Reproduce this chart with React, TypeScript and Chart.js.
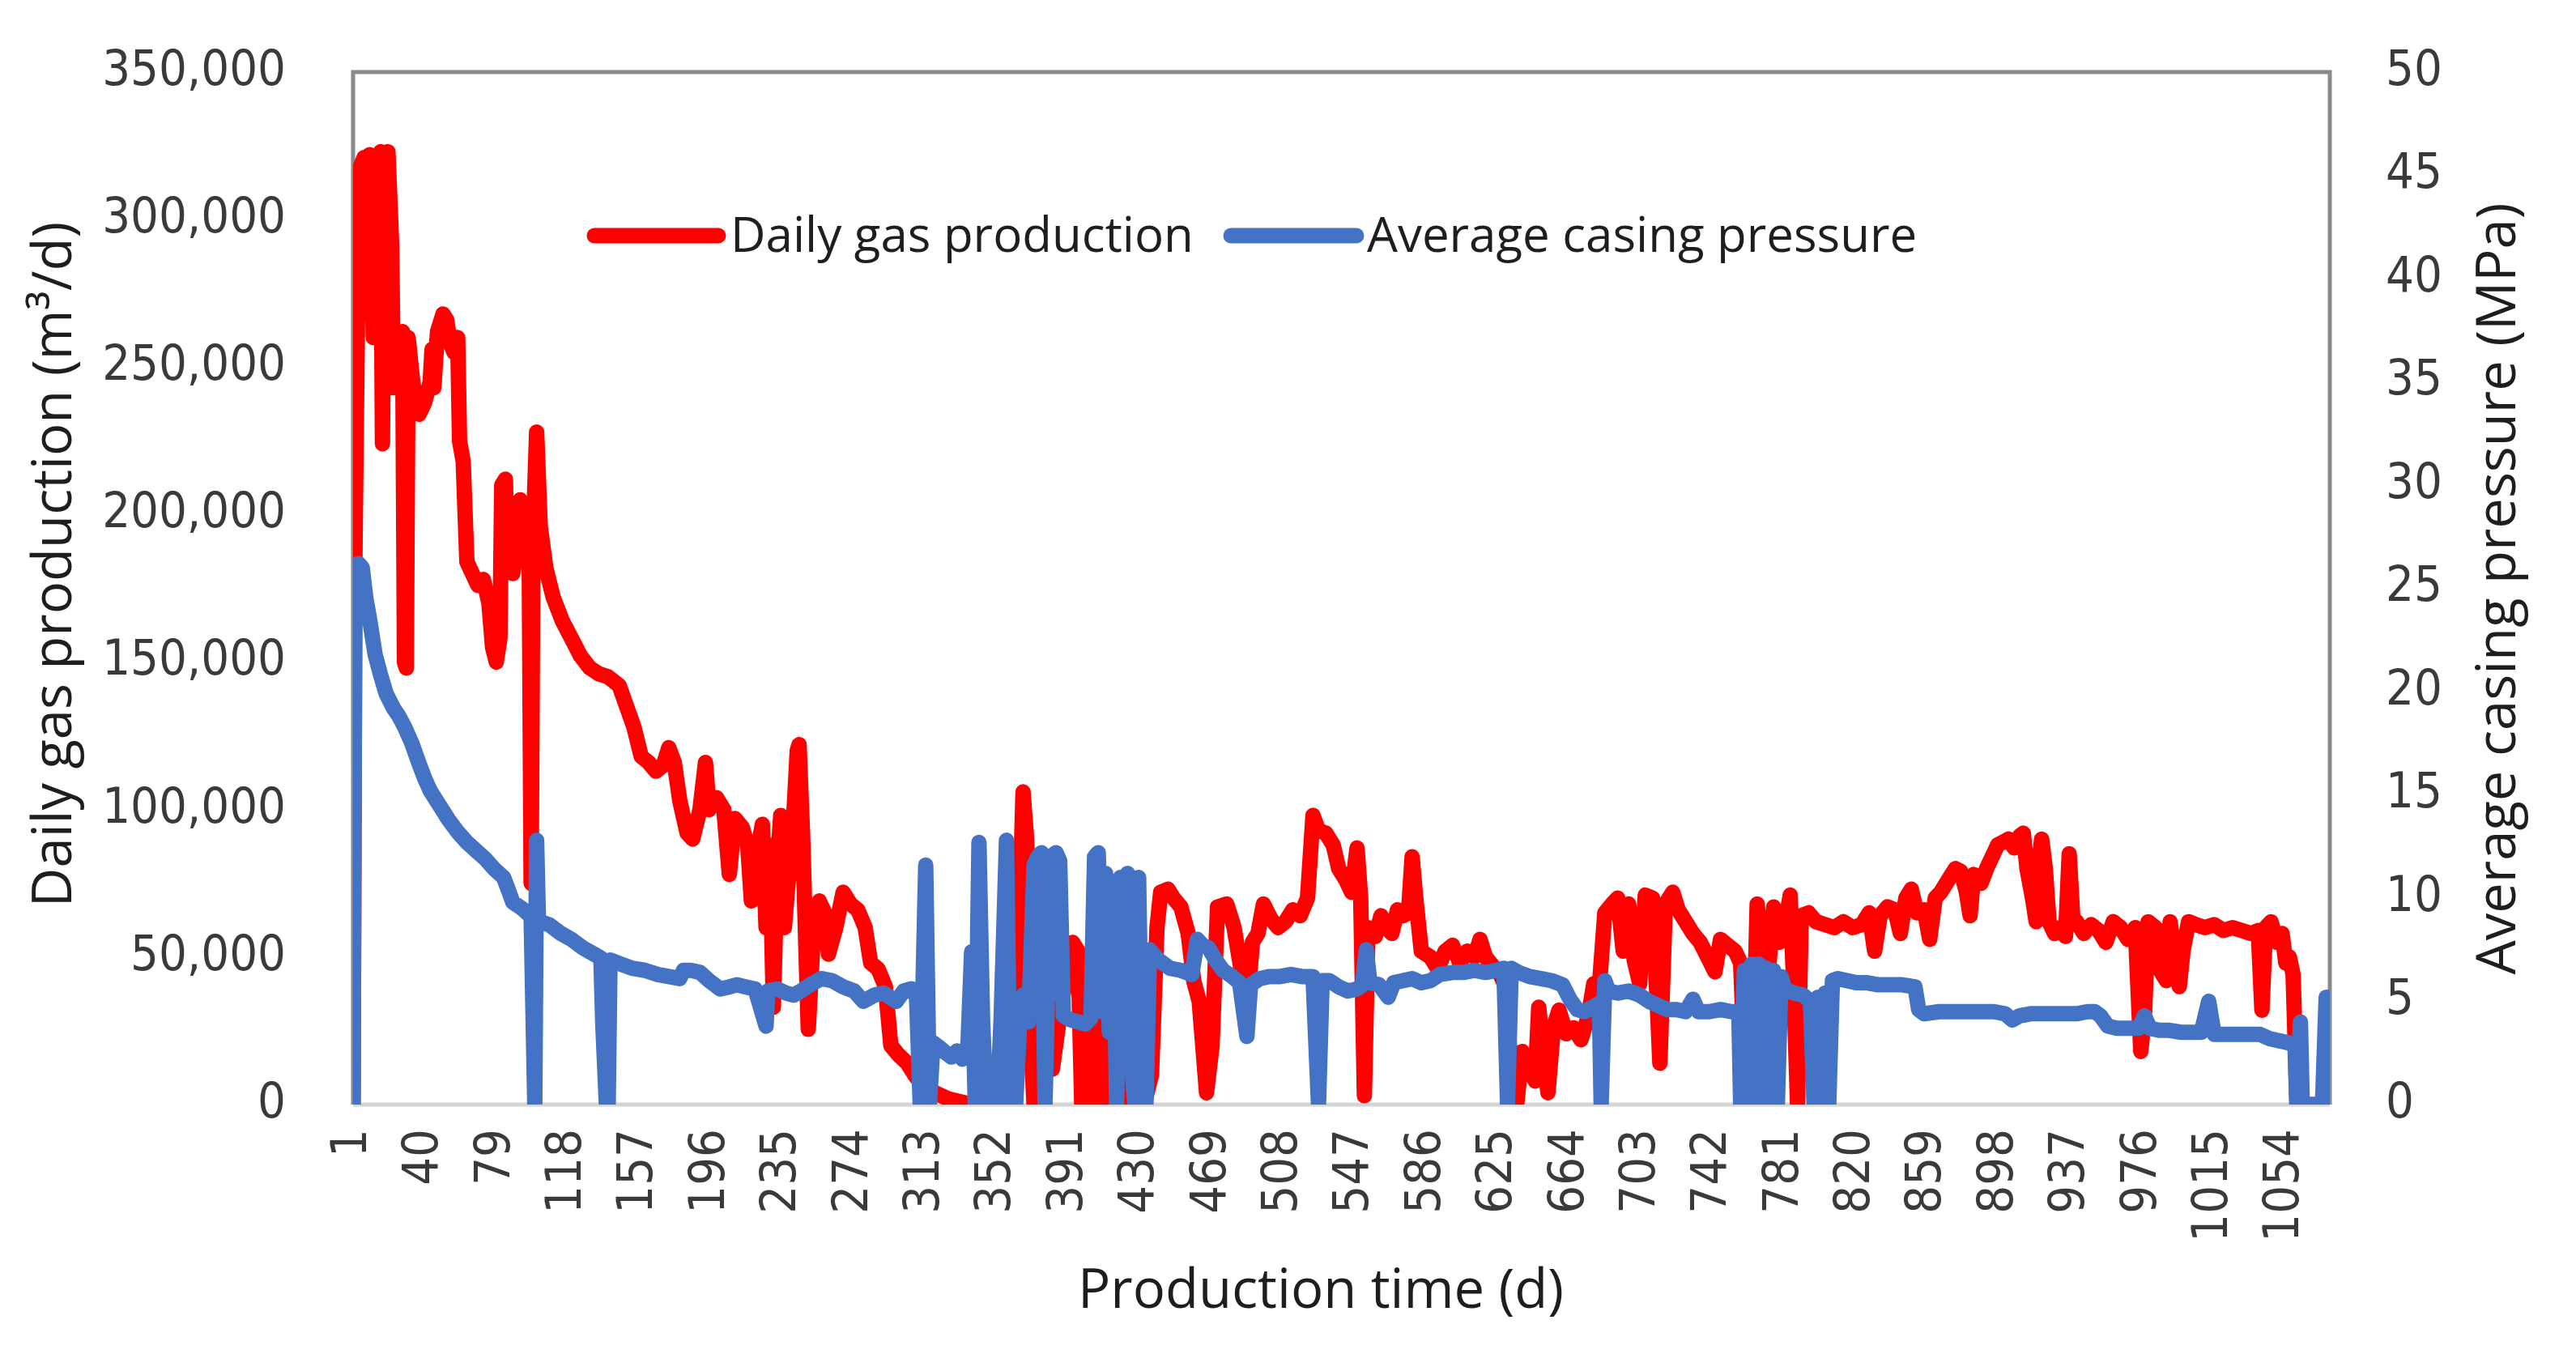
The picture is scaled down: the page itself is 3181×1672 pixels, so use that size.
import React, { useEffect, useRef } from 'react';
import { Chart, registerables } from 'chart.js';

Chart.register(...registerables);

// ---------- data ----------
const seriesNames = ['Daily gas production', 'Average casing pressure'];
const xAxisTitle = 'Production time (d)';
const leftAxisTitle = 'Daily gas production (m\u00B3/d)';
const rightAxisTitle = 'Average casing pressure (MPa)';

const xTickLabels = [1, 40, 79, 118, 157, 196, 235, 274, 313, 352, 391, 430, 469, 508, 547, 586, 625, 664, 703, 742, 781, 820, 859, 898, 937, 976, 1015, 1054];
const gasTicks = [0, 50000, 100000, 150000, 200000, 250000, 300000, 350000];
const pressureTicks = [0, 5, 10, 15, 20, 25, 30, 35, 40, 45, 50];

const gasDays = [
  1, 2, 4, 5, 7, 9, 10, 12, 13, 15, 16, 17, 18, 20, 22, 23, 24, 26, 28, 29, 30, 31, 33, 35, 37, 40, 43, 44, 45, 47, 50, 52, 54, 56, 58, 59, 61, 63, 66, 69, 72, 75, 77, 79, 81, 82, 84, 85, 88, 90, 92, 95, 97, 98, 99, 101, 103, 106, 110, 115, 120, 125, 130, 135, 140, 146, 150, 154, 158, 162, 166, 170, 173, 176, 179, 183, 186, 190, 193, 195, 199, 203, 206, 209, 213, 216, 218, 221, 224, 226, 228, 230, 232, 234, 236, 238, 240, 243, 244, 246, 249, 252, 255, 258, 260, 264, 268, 272, 276, 280, 283, 287, 291, 294, 298, 303, 307, 312, 318, 325, 335, 345, 355, 360, 364, 366, 368, 369, 370, 372, 376, 378, 382, 386, 390, 393, 396, 398, 402, 404, 407, 409, 410, 412, 414, 416, 418, 421, 424, 428, 432, 436, 439, 441, 445, 448, 452, 456, 459, 462, 466, 469, 472, 477, 481, 485, 488, 491, 494, 497, 501, 505, 509, 513, 517, 521, 524, 527, 531, 535, 538, 542, 545, 548, 550, 552, 554, 558, 561, 564, 567, 570, 573, 576, 578, 580, 583, 588, 592, 596, 600, 604, 608, 612, 615, 618, 622, 626, 629, 632, 635, 638, 642, 645, 647, 650, 652, 655, 658, 662, 666, 670, 674, 677, 680, 683, 687, 690, 693, 696, 699, 702, 705, 709, 713, 716, 720, 723, 727, 731, 735, 739, 743, 746, 750, 754, 757, 760, 764, 766, 769, 772, 775, 778, 781, 784, 786, 788, 790, 794, 798, 803, 808, 813, 818, 823, 827, 830, 833, 837, 841, 844, 847, 850, 853, 857, 860, 863, 866, 870, 874, 877, 880, 882, 884, 888, 891, 894, 897, 900, 903, 906, 909, 911, 913, 916, 918, 920, 921, 923, 925, 928, 931, 934, 936, 938, 940, 944, 948, 952, 956, 960, 964, 968, 972, 975, 977, 979, 983, 986, 989, 991, 994, 996, 998, 1001, 1005, 1010, 1015, 1020, 1025, 1030, 1035, 1039, 1041, 1043, 1046, 1049, 1052, 1054, 1056, 1058, 1060, 1066, 1074, 1076, 1078
];
const gasValues = [
  0, 186000, 300000, 318000, 321000, 300000, 322000, 260000, 320000, 300000, 323000, 224000, 310000, 323000, 292000, 243000, 258000, 250000, 262000, 150000, 148000, 260000, 248000, 238000, 234000, 238000, 245000, 256000, 243000, 262000, 268000, 266000, 258000, 255000, 260000, 225000, 218000, 184000, 180000, 176000, 178000, 170000, 155000, 150000, 158000, 210000, 212000, 182000, 180000, 190000, 205000, 200000, 180000, 75000, 190000, 228000, 196000, 182000, 172000, 164000, 158000, 152000, 148000, 146000, 145000, 142000, 135000, 128000, 118000, 116000, 113000, 115000, 121000, 116000, 103000, 92000, 90000, 100000, 116000, 100000, 104000, 100000, 78000, 97000, 94000, 88000, 69000, 85000, 95000, 60000, 88000, 33000, 80000, 98000, 60000, 75000, 85000, 120000, 122000, 90000, 25500, 60000, 69000, 65000, 51000, 60000, 72000, 68000, 66000, 60000, 48000, 46000, 40000, 20000, 17000, 14000, 10000, 6000, 4000, 2000, 500, 0, 0, 20000, 60000, 106000, 90000, 72000, 25000, 0, 0, 15000, 12000, 30000, 45000, 55000, 52000, 0, 0, 35000, 30000, 0, 33000, 10000, 68000, 20000, 0, 25000, 0, 5000, 0, 10000, 60000, 72000, 73000, 70000, 67000, 58000, 42000, 35000, 4000, 20000, 67000, 68000, 60000, 45000, 33000, 55000, 58000, 68000, 63000, 60000, 62000, 66000, 64000, 70000, 98000, 93000, 92000, 88000, 80000, 76000, 72000, 87000, 70000, 3000, 60000, 57000, 64000, 60000, 58000, 66000, 64000, 65000, 84000, 70000, 52000, 50000, 46000, 52000, 54000, 48000, 52000, 50000, 56000, 50000, 47000, 44000, 40000, 10000, 0, 18000, 12000, 8000, 33000, 15000, 4000, 26000, 32000, 24000, 26000, 22000, 30000, 41000, 40000, 65000, 68000, 70000, 52000, 68000, 49000, 41000, 71000, 70000, 14000, 68000, 72000, 66000, 62000, 58000, 55000, 50000, 45000, 56000, 54000, 52000, 48000, 0, 20000, 68000, 50000, 44000, 67000, 55000, 60000, 71000, 39000, 0, 64000, 65000, 62000, 61000, 60000, 62000, 60000, 61000, 65000, 52000, 64000, 67000, 66000, 58000, 70000, 73000, 65000, 66000, 56000, 70000, 72000, 76000, 80000, 79000, 72000, 64000, 78000, 75000, 80000, 84000, 88000, 89000, 90000, 87000, 91000, 92000, 80000, 70000, 62000, 85000, 90000, 80000, 62000, 58000, 60000, 57000, 85000, 63000, 62000, 58000, 61000, 59000, 55000, 62000, 60000, 56000, 60000, 18000, 30000, 62000, 60000, 45000, 42000, 62000, 48000, 40000, 52000, 62000, 61000, 60000, 61000, 59000, 60000, 59000, 58000, 59000, 32000, 60000, 62000, 55000, 58000, 48000, 50000, 44000, 2000, 0, 0, 18000, 0
];

const pressureDays = [
  1, 2, 4, 6, 8, 10, 13, 16, 19, 23, 26, 29, 33, 37, 40, 43, 48, 53, 58, 63, 68, 73, 78, 83, 86, 88, 93, 98, 100, 101, 102, 105, 108, 114, 120, 126, 132, 136, 137, 139, 140, 141, 147, 153, 160, 167, 173, 179, 181, 185, 190, 195, 201, 206, 210, 215, 220, 226, 227, 232, 237, 241, 245, 250, 256, 262, 268, 274, 279, 285, 290, 297, 301, 305, 308, 310, 313, 315, 317, 320, 324, 327, 330, 333, 336, 338, 340, 342, 344, 346, 352, 354, 357, 359, 362, 364, 366, 369, 372, 374, 376, 378, 381, 384, 386, 388, 392, 396, 400, 403, 405, 407, 409, 411, 413, 415, 417, 419, 421, 423, 425, 427, 429, 431, 433, 435, 440, 446, 452, 458, 461, 464, 467, 471, 475, 480, 484, 488, 490, 495, 500, 506, 512, 518, 524, 527, 529, 533, 538, 543, 548, 551, 553, 555, 560, 565, 568, 573, 578, 583, 588, 593, 600, 606, 612, 618, 624, 628, 630, 632, 636, 642, 648, 654, 660, 664, 668, 672, 676, 680, 681, 683, 685, 690, 696, 702, 707, 712, 717, 722, 727, 731, 734, 740, 746, 752, 756, 757, 759, 761, 763, 765, 767, 769, 771, 773, 775, 777, 779, 781, 786, 791, 795, 797, 799, 801, 803, 805, 807, 810, 815, 820, 826, 832, 838, 845, 852, 854, 857, 865, 875, 885, 895, 901, 905, 909, 915, 920, 930, 940, 946, 950, 953, 957, 962, 968, 974, 977, 980, 985, 990, 997, 1003, 1008, 1012, 1015, 1020, 1030, 1040, 1045, 1050, 1055, 1059, 1060, 1062, 1063, 1074, 1076, 1078
];
const pressureValues = [
  0, 25.5, 26.2, 26.0, 24.5, 23.5, 21.8, 20.8, 19.9, 19.2, 18.8, 18.3, 17.5, 16.5, 15.8, 15.2, 14.5, 13.8, 13.2, 12.7, 12.3, 11.9, 11.4, 11.0, 10.3, 9.8, 9.5, 9.1, 0, 12.8, 8.9, 8.8, 8.7, 8.3, 8.0, 7.6, 7.3, 7.1, 4.0, 0, 0, 7.0, 6.8, 6.6, 6.5, 6.3, 6.2, 6.1, 6.5, 6.5, 6.4, 6.0, 5.6, 5.7, 5.8, 5.7, 5.6, 3.8, 5.5, 5.6, 5.4, 5.3, 5.5, 5.8, 6.1, 6.0, 5.7, 5.5, 5.0, 5.3, 5.4, 5.0, 5.5, 5.6, 5.2, 0, 11.6, 0, 3.0, 2.8, 2.5, 2.3, 2.6, 2.2, 2.9, 7.4, 0, 12.7, 4.0, 0, 0, 4.0, 12.8, 0, 0, 3.6, 5.3, 4.0, 11.6, 12.0, 12.2, 0, 12.0, 12.2, 11.8, 4.3, 4.1, 4.0, 3.9, 4.2, 12.0, 12.2, 4.5, 11.2, 3.5, 10.8, 0, 11.0, 3.0, 11.2, 2.0, 0, 11.0, 0, 0, 7.5, 7.0, 6.6, 6.5, 6.3, 8.0, 7.7, 7.6, 7.0, 6.5, 6.2, 5.9, 3.3, 5.8, 6.1, 6.2, 6.2, 6.3, 6.2, 6.2, 0, 6.0, 6.0, 5.7, 5.5, 5.6, 5.8, 7.5, 5.9, 5.8, 5.2, 5.9, 6.0, 6.1, 5.9, 6.0, 6.3, 6.4, 6.4, 6.5, 6.4, 6.5, 6.6, 0, 6.6, 6.4, 6.2, 6.1, 6.0, 5.8, 5.1, 4.6, 4.5, 4.7, 4.9, 0, 6.0, 5.5, 5.4, 5.5, 5.3, 5.0, 4.8, 4.6, 4.6, 4.5, 5.1, 4.5, 4.5, 4.6, 4.5, 4.5, 0, 6.5, 0, 6.8, 0, 6.8, 0, 6.6, 0, 6.5, 0, 6.2, 5.6, 5.4, 5.3, 5.0, 0, 5.2, 0, 5.4, 0, 6.0, 6.1, 6.0, 5.9, 5.9, 5.8, 5.8, 5.8, 5.7, 4.6, 4.4, 4.5, 4.5, 4.5, 4.5, 4.4, 4.1, 4.3, 4.4, 4.4, 4.4, 4.4, 4.5, 4.5, 4.3, 3.8, 3.7, 3.7, 3.7, 4.3, 3.7, 3.6, 3.6, 3.5, 3.5, 3.5, 5.0, 3.4, 3.4, 3.4, 3.4, 3.2, 3.1, 3.0, 2.9, 0, 4.0, 0, 0, 5.2, 5.1
];

// ---------- styling ----------
const RED = '#FF0000';
const BLUE = '#4472C4';
const TICK_FONT = "'DejaVu Sans Condensed', 'Liberation Sans', sans-serif";
const TEXT_FONT = "'Open Sans', 'Noto Sans', sans-serif";
const LINE_W = 19;

const decorPlugin = {
  id: 'decor',
  beforeDatasetsDraw(chart: any) {
    const { ctx, chartArea: a } = chart;
    ctx.save();
    ctx.lineCap = 'butt';
    ctx.strokeStyle = '#d4d4d4';
    ctx.lineWidth = 5;
    ctx.beginPath();
    ctx.moveTo(a.left, a.bottom);
    ctx.lineTo(a.right, a.bottom);
    ctx.stroke();
    ctx.strokeStyle = '#8a8a8a';
    ctx.lineWidth = 5;
    ctx.beginPath();
    ctx.moveTo(a.left, a.bottom);
    ctx.lineTo(a.left, a.top);
    ctx.lineTo(a.right, a.top);
    ctx.lineTo(a.right, a.bottom);
    ctx.stroke();
    ctx.restore();
  },
  afterDraw(chart: any) {
    const { ctx } = chart;
    ctx.save();
    ctx.fillStyle = '#1e1e1e';
    ctx.textBaseline = 'alphabetic';
    ctx.font = `67px ${TEXT_FONT}`;
    ctx.textAlign = 'center';
    ctx.fillText(xAxisTitle, 1631, 1615);

    ctx.save();
    ctx.translate(88, 697);
    ctx.rotate(-Math.PI / 2);
    ctx.fillText(leftAxisTitle, 0, 0);
    ctx.restore();

    ctx.save();
    ctx.translate(3106, 727);
    ctx.rotate(-Math.PI / 2);
    ctx.fillText(rightAxisTitle, 0, 0);
    ctx.restore();

    // legend
    const items = [
      { name: seriesNames[0], color: RED, x0: 734, x1: 887, tx: 902 },
      { name: seriesNames[1], color: BLUE, x0: 1520, x1: 1675, tx: 1688 },
    ];
    ctx.font = `60px ${TEXT_FONT}`;
    ctx.textAlign = 'left';
    items.forEach((it) => {
      ctx.strokeStyle = it.color;
      ctx.lineWidth = LINE_W;
      ctx.lineCap = 'round';
      ctx.beginPath();
      ctx.moveTo(it.x0, 291);
      ctx.lineTo(it.x1, 291);
      ctx.stroke();
      ctx.fillStyle = '#1e1e1e';
      ctx.fillText(it.name, it.tx, 311);
    });
    ctx.restore();
  },
};

export default function App() {
  const canvasRef = useRef<HTMLCanvasElement | null>(null);

  useEffect(() => {
    document.body.style.margin = '0';
    const canvas = canvasRef.current;
    if (!canvas) return;

    const tickFont = { family: TICK_FONT, size: 61 };
    const tickColor = '#3a3a3a';

    const chart = new Chart(canvas, {
      type: 'line',
      data: {
        datasets: [
          {
            label: seriesNames[1],
            data: pressureDays.map((d, i) => ({ x: d, y: pressureValues[i] })),
            yAxisID: 'y1',
            borderColor: BLUE,
            backgroundColor: BLUE,
            borderWidth: LINE_W,
            pointRadius: 0,
            tension: 0,
            borderJoinStyle: 'round',
            borderCapStyle: 'round',
            order: 1,
          },
          {
            label: seriesNames[0],
            data: gasDays.map((d, i) => ({ x: d, y: gasValues[i] })),
            yAxisID: 'y',
            borderColor: RED,
            backgroundColor: RED,
            borderWidth: LINE_W,
            pointRadius: 0,
            tension: 0,
            borderJoinStyle: 'round',
            borderCapStyle: 'round',
            order: 2,
          },
        ],
      },
      options: {
        responsive: false,
        animation: false,
        devicePixelRatio: 1,
        layout: { padding: { top: 89, left: 0, right: 0, bottom: 0 } },
        plugins: {
          legend: { display: false },
          tooltip: { enabled: false },
        },
        scales: {
          x: {
            type: 'linear',
            min: 1,
            max: 1078,
            afterBuildTicks: (scale: any) => {
              scale.ticks = xTickLabels.map((v) => ({ value: v }));
            },
            afterFit: (scale: any) => {
              scale.height = 308;
            },
            ticks: {
              autoSkip: false,
              minRotation: 90,
              maxRotation: 90,
              padding: 0,
              font: tickFont,
              color: tickColor,
              callback: (v: any) => String(v),
            },
            grid: { display: false, drawTicks: true, tickLength: 30 },
            border: { display: false },
          },
          y: {
            position: 'left',
            min: gasTicks[0],
            max: gasTicks[gasTicks.length - 1],
            afterBuildTicks: (scale: any) => {
              scale.ticks = gasTicks.map((v) => ({ value: v }));
            },
            afterFit: (scale: any) => {
              scale.width = 436;
            },
            ticks: {
              padding: 0,
              font: tickFont,
              color: tickColor,
              callback: (v: any) => Number(v).toLocaleString('en-US'),
            },
            grid: { display: false, drawTicks: true, tickLength: 83 },
            border: { display: false },
          },
          y1: {
            position: 'right',
            min: pressureTicks[0],
            max: pressureTicks[pressureTicks.length - 1],
            afterBuildTicks: (scale: any) => {
              scale.ticks = pressureTicks.map((v) => ({ value: v }));
            },
            afterFit: (scale: any) => {
              scale.width = 304;
            },
            ticks: {
              padding: 0,
              font: tickFont,
              color: tickColor,
              callback: (v: any) => String(v),
            },
            grid: { display: false, drawTicks: true, tickLength: 69 },
            border: { display: false },
          },
        },
      },
      plugins: [decorPlugin],
    } as any);

    return () => chart.destroy();
  }, []);

  return (
    <div style={{ width: 3181, height: 1672, background: '#fff' }}>
      <canvas ref={canvasRef} width={3181} height={1672} style={{ display: 'block' }} />
    </div>
  );
}
